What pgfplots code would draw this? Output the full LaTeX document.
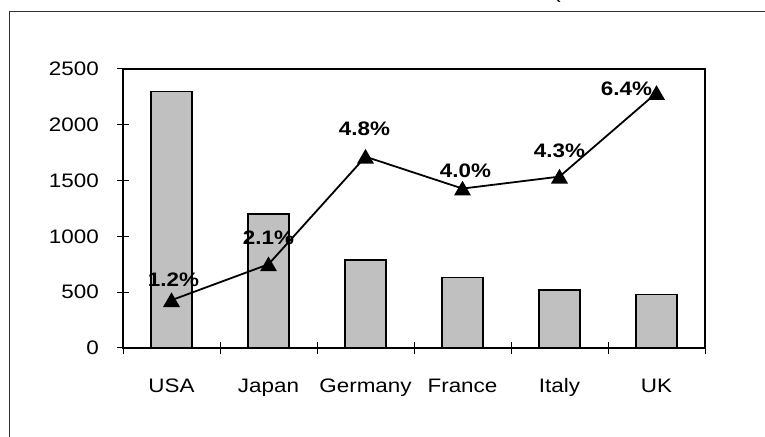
\documentclass[border=0pt]{standalone}
\usepackage{fontspec}
\setmainfont{Liberation Sans}[FakeStretch=1.15]
\usepackage{pgfplots}
\pgfplotsset{compat=1.18}
\usepackage{pgfplotstable}

\definecolor{barGray}{RGB}{192,192,192}

% Bar series: one value per country
\pgfplotstableread{
idx value
0 2300
1 1200
2 790
3 630
4 520
5 480
}\gdpdata

% Growth series (percent) with the label offsets of each data label
\pgfplotstableread{
idx growth dx dy
0 1.2 2 22
1 2.1 0 29
2 4.8 -1 30
3 4.0 3 20
4 4.3 0 28
5 6.4 -30 6
}\growthdata

\begin{document}
\begin{tikzpicture}[x=1pt,y=1pt]
\useasboundingbox (0,0) rectangle (765,436);
\clip (0,0) rectangle (765,436);
\fill[white] (0,0) rectangle (765,436);
% chart frame
\draw[black!80, line width=1.5pt] (9.5,-20) -- (9.5,424.5) -- (800,424.5);
\node[anchor=base, font=\fontsize{19.5}{21}\selectfont, inner sep=0pt] at (557,437) {(};

\pgfplotsset{
  every axis/.append style={
    at={(123pt,88pt)}, anchor=south west,
    scale only axis, width=582pt, height=279pt,
    xmin=-0.5, xmax=5.5,
    /pgf/number format/assume math mode=true,
    font=\fontsize{19.5}{21}\selectfont,
  }
}

\begin{axis}[
  ymin=0, ymax=2500,
  xtick={0,...,5},
  xticklabels={USA,Japan,Germany,France,Italy,UK},
  major x tick style={draw=none},
  minor xtick={-0.5,0.5,...,5.5},
  ytick={0,500,...,2500},
  tick pos=left,
  tick align=center,
  major tick length=12pt, minor tick length=12pt,
  every tick/.style={black, line width=1pt},
  axis line style={black, line width=1.1pt},
  yticklabel style={anchor=east, inner sep=0pt, xshift=-18pt},
  xticklabel style={anchor=base, inner sep=0pt, yshift=-38.5pt},
  scaled y ticks=false,
  yticklabel={\pgfmathprintnumber[fixed, 1000 sep={}]{\tick}},
]
\addplot[ybar, bar width=41pt, fill=barGray, draw=black, line width=1.4pt]
  table[x=idx, y=value]{\gdpdata};
\end{axis}

\begin{axis}[
  ymin=0, ymax=7,
  hide axis,
  clip=false,
]
\addplot[black, line width=1.8pt,
  mark=triangle*, mark size=8pt,
  mark options={solid, fill=black, yshift=-2pt},
  point meta=y,
  visualization depends on={\thisrow{dx} \as \labdx},
  visualization depends on={\thisrow{dy} \as \labdy},
  nodes near coords={\pgfmathprintnumber[fixed, fixed zerofill, precision=1]{\pgfplotspointmeta}\%},
  every node near coord/.append style={anchor=center, inner sep=0pt,
    xshift=\labdx pt, yshift=\labdy pt, font=\fontsize{19.5}{21}\selectfont\bfseries},
] table[x=idx, y=growth]{\growthdata};
\end{axis}
\end{tikzpicture}
\end{document}
